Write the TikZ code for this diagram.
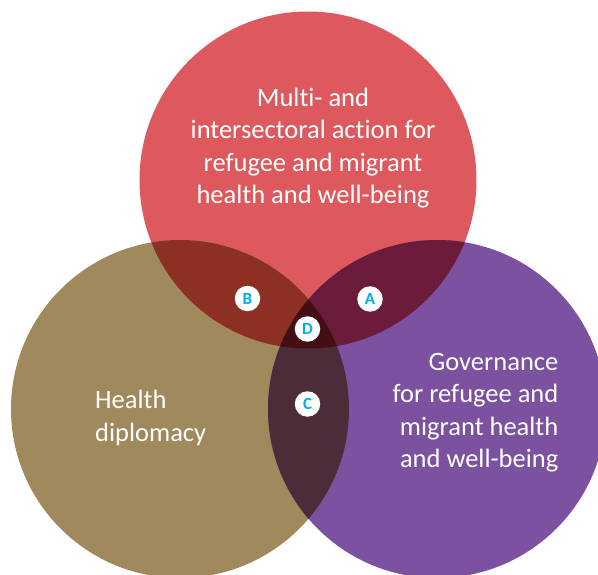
\documentclass[tikz,border=0pt]{standalone}
\usepackage{fontspec}
\setmainfont{Carlito}[Ligatures=NoCommon]
\definecolor{cred}{RGB}{221,89,94}
\definecolor{colive}{RGB}{160,137,92}
\definecolor{cpurple}{RGB}{123,81,160}
\definecolor{credolive}{RGB}{139,48,34}
\definecolor{credpurple}{RGB}{107,28,59}
\definecolor{colivepurple}{RGB}{77,44,58}
\definecolor{ctriple}{RGB}{67,15,21}
\definecolor{ccyan}{RGB}{0,174,239}
\tikzset{
  lbl/.style={circle,fill=white,minimum size=25.5pt,inner sep=0pt,text=ccyan,font=\fontsize{17}{17}\selectfont\bfseries},
  maintext/.style={text=white,inner sep=0pt,font=\fontsize{26.5}{32.4}\selectfont}
}
\begin{document}
\begin{tikzpicture}[x=1pt,y=-1pt]
\useasboundingbox (0,0) rectangle (598,575);
\clip (0,0) rectangle (598,575);
\def\Rc{(308,180) circle[radius=168.5]}
\def\Lc{(180,409) circle[radius=169]}
\def\Pc{(437,409) circle[radius=169]}
\fill[cred] \Rc;
\fill[colive] \Lc;
\fill[cpurple] \Pc;
\begin{scope}\clip \Rc; \fill[credolive] \Lc; \end{scope}
\begin{scope}\clip \Rc; \fill[credpurple] \Pc; \end{scope}
\begin{scope}\clip \Lc; \fill[colivepurple] \Pc; \end{scope}
\begin{scope}\clip \Rc; \clip \Lc; \fill[ctriple] \Pc; \end{scope}
\node[maintext,align=center] (top) at (313,148) {Multi- and\\intersectoral action for\\refugee and migrant\\health and well-being};
\node[maintext,align=left,anchor=west] (left) at (95,418) {Health\\diplomacy};
\node[maintext,align=right,anchor=east] (right) at (558.5,412.5) {Governance\\for refugee and\\migrant health\\and well-being};
\node[lbl] (B) at (247.5,298.5) {B};
\node[lbl] (A) at (370,299) {A};
\node[lbl] (D) at (307.5,329) {D};
\node[lbl] (C) at (307.5,404) {C};
\end{tikzpicture}
\end{document}
